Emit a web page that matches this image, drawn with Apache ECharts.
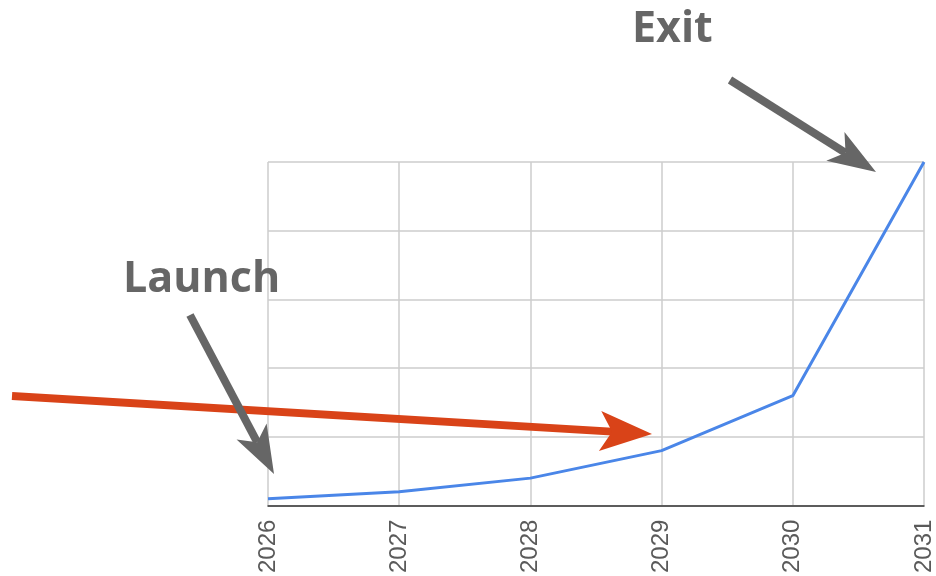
<!DOCTYPE html>
<html>
<head>
<meta charset="utf-8">
<script src="https://cdn.jsdelivr.net/npm/echarts@6/dist/echarts.min.js"></script>
<style>
  html, body { margin: 0; padding: 0; background: #ffffff; }
  #chart { width: 936px; height: 576px; }
</style>
</head>
<body>
<div id="chart"></div>
<script>
// Growth curve from launch to exit
var years = ['2026', '2027', '2028', '2029', '2030', '2031'];
var values = [2, 4, 8, 16, 32, 100];

// Annotation labels
var launchText = 'Launch';
var exitText = 'Exit';

// Build a swept arrow (shaft + notched head) between two pixel points
function arrow(x0, y0, x1, y1, color, width, headLen, headHalf, notch) {
  var dx = x1 - x0, dy = y1 - y0;
  var len = Math.sqrt(dx * dx + dy * dy);
  var ux = dx / len, uy = dy / len;
  var nx = -uy, ny = ux;
  var bx = x1 - ux * headLen, by = y1 - uy * headLen;
  var mx = x1 - ux * (headLen - notch), my = y1 - uy * (headLen - notch);
  return [
    {
      type: 'line',
      shape: { x1: x0, y1: y0, x2: mx, y2: my },
      style: { stroke: color, lineWidth: width, lineCap: 'butt' },
      z: 100
    },
    {
      type: 'polygon',
      shape: {
        points: [
          [x1, y1],
          [bx + nx * headHalf, by + ny * headHalf],
          [mx, my],
          [bx - nx * headHalf, by - ny * headHalf]
        ]
      },
      style: { fill: color },
      z: 100
    }
  ];
}

var chart = echarts.init(document.getElementById('chart'));

var graphics = []
  .concat(arrow(12, 396, 652, 434, '#d94318', 8, 52, 20, 12))
  .concat(arrow(190, 315, 274, 474, '#666666', 8, 48, 17, 12))
  .concat(arrow(730, 80, 876, 172, '#666666', 8, 48, 17, 12));

var labelFont = 'bold 43px "Open Sans", Lato, sans-serif';

graphics.push({
  type: 'text',
  left: 123,
  top: 258,
  style: { text: launchText, font: labelFont, fill: '#666666' },
  z: 100
});
graphics.push({
  type: 'text',
  left: 632,
  top: 8,
  style: { text: exitText, font: labelFont, fill: '#666666' },
  z: 100
});

chart.setOption({
  animation: false,
  backgroundColor: '#ffffff',
  grid: { left: 268, right: 9, top: 162, bottom: 70 },
  xAxis: {
    type: 'category',
    data: years,
    boundaryGap: false,
    axisLine: { show: true, lineStyle: { color: '#333333', width: 1.5 } },
    axisTick: { show: false },
    axisLabel: {
      rotate: 90,
      margin: 14,
      color: '#5a5a5a',
      fontSize: 24,
      fontFamily: 'Arial, "Liberation Sans", sans-serif'
    },
    splitLine: { show: true, lineStyle: { color: '#cccccc', width: 1.5 } }
  },
  yAxis: {
    type: 'value',
    min: 0,
    max: 100,
    interval: 20,
    axisLine: { show: false },
    axisTick: { show: false },
    axisLabel: { show: false },
    splitLine: { show: true, lineStyle: { color: '#cccccc', width: 1.5 } }
  },
  series: [{
    type: 'line',
    data: values,
    symbol: 'none',
    lineStyle: { color: '#4a86e8', width: 3 },
    z: 5
  }],
  graphic: graphics
});
</script>
</body>
</html>
